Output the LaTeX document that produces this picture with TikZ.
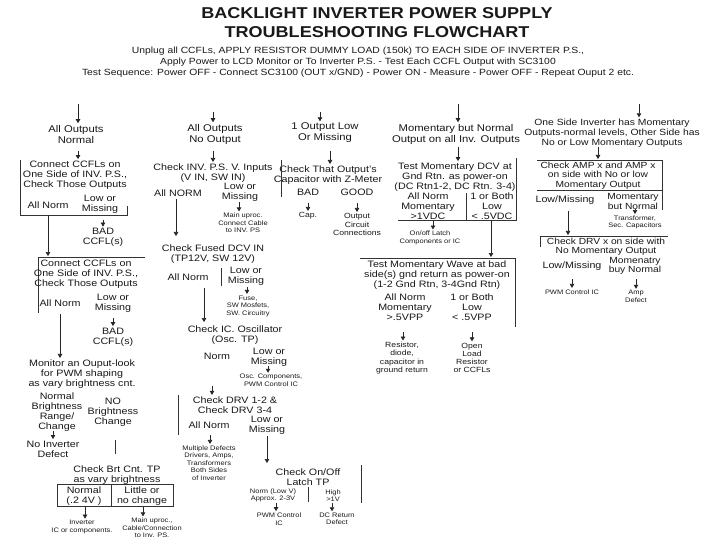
\documentclass[tikz,border=0pt]{standalone}
\usepackage{fontspec}
\setmainfont{Liberation Sans}[FakeStretch=1.15]
\usetikzlibrary{arrows.meta}
\tikzset{
  base/.style={align=center, inner sep=0.5pt, text=black!90},
  ttl/.style={base, font=\fontsize{15.7}{18}\selectfont\bfseries},
  sub/.style={base, font=\fontsize{9}{11}\selectfont},
  hd/.style={base, font=\fontsize{9.8}{11}\selectfont},
  hdb/.style={base, font=\fontsize{9}{9.8}\selectfont},
  tx/.style={base, font=\fontsize{9.3}{10}\selectfont},
  txt/.style={base, font=\fontsize{8.9}{9.2}\selectfont},
  sx/.style={base, font=\fontsize{7.5}{8.2}\selectfont},
  tn/.style={base, font=\fontsize{6.5}{7.5}\selectfont},
  ln/.style={line width=0.8pt, draw=black!80},
  arr/.style={line width=0.7pt, draw=black!85, shorten >=1pt, -{Triangle[width=4.5pt,length=4pt]}},
}
\begin{document}
\begin{tikzpicture}[x=1pt,y=-1pt]
\useasboundingbox[fill=white] (0,0) rectangle (720,540);

% ---------- title ----------
\node[ttl] (title1) at (377,13) {BACKLIGHT INVERTER POWER SUPPLY};
\node[ttl] (title2) at (377,32) {TROUBLESHOOTING FLOWCHART};
\node[sub] (intro) at (358,62) {Unplug all CCFLs, APPLY RESISTOR DUMMY LOAD (150k) TO EACH SIDE OF INVERTER P.S.,\\Apply Power to LCD Monitor or To Inverter P.S. - Test Each CCFL Output with SC3100\\Test Sequence: Power OFF - Connect SC3100 (OUT x/GND) - Power ON - Measure - Power OFF - Repeat Ouput 2  etc.};

% ---------- headers ----------
\node[hd] (h1) at (76,134) {All Outputs\\Normal};
\node[hd] (h2) at (215,134) {All Outputs\\No Output};
\node[hd] (h3) at (325,133) {1 Output Low\\Or Missing};
\node[hd] (h4) at (456,134) {Momentary but Normal\\Output on all Inv. Outputs};
\node[hdb] (h5) at (612,133) {One Side Inverter has Momentary\\Outputs-normal levels, Other Side has\\No or Low Momentary Outputs};

\coordinate (a1) at (78,104);  \draw[arr] (a1) -- (a1 |- h1.north);
\coordinate (a2) at (213,112); \draw[arr] (a2) -- (a2 |- h2.north);
\coordinate (a3) at (320,112); \draw[arr] (a3) -- (a3 |- h3.north);
\coordinate (a4) at (458,104); \draw[arr] (a4) -- (a4 |- h4.north);
\coordinate (a5) at (639,104); \draw[arr] (a5) -- (a5 |- h5.north);

% ---------- column 1 ----------
\node[tx] (b1) at (75,175) {Connect CCFLs on\\One Side of INV. P.S.,\\Check Those Outputs};
\coordinate (c1a) at (78,151); \draw[arr] (c1a) -- (c1a |- b1.north);
\draw[ln] (20,160) -- (20,215) -- (127,215) -- (127,206);
\node[tx] (n1a) at (48,205) {All Norm};
\node[tx] (n1b) at (100,204) {Low or\\Missing};
\node[tx] (bad1) at (103,237.5) {BAD\\CCFL(s)};
\coordinate (c1b) at (103,220); \draw[arr] (c1b) -- (c1b |- bad1.north);

\coordinate (b2tl) at (38,257);
\draw[ln] (145,257) -- (b2tl) -- (38,313);
\coordinate (c1c) at (48,215); \draw[arr] (c1c) -- (c1c |- b2tl);
\node[tx] (b2) at (86,274) {Connect CCFLs on\\One Side of INV. P.S.,\\Check Those Outputs};
\node[tx] (n2a) at (60,303) {All Norm};
\node[tx] (n2b) at (113,303) {Low or\\Missing};
\node[tx] (bad2) at (113,337) {BAD\\CCFL(s)};
\coordinate (c1d) at (113,318); \draw[arr] (c1d) -- (c1d |- bad2.north);

\node[tx] (mon) at (82,374) {Monitor an Ouput-look\\for PWM shaping\\as vary brightness cnt.};
\coordinate (c1e) at (60,314); \draw[arr] (c1e) -- (c1e |- mon.north);
\node[tx] (nb) at (57,412) {Normal\\Brightness\\Range/\\Change};
\node[tx] (nob) at (113,412) {NO\\Brightness\\Change};
\node[tx] (noinv) at (53,449) {No Inverter\\Defect};
\coordinate (c1f) at (53,431); \draw[arr] (c1f) -- (c1f |- noinv.north);
\draw[ln] (115,440) -- (115,454);
\node[tx] (brt) at (117,475) {Check Brt Cnt. TP\\as vary brightness};
\draw[ln] (57,484) rectangle (173,506);
\draw[ln] (111,484) -- (111,506);
\node[tx] (brtn) at (84,496) {Normal\\(.2 4V )};
\node[tx] (brtl) at (142,496) {Little or\\no change};
\node[tn] (invic) at (82,527) {Inverter\\IC or components.};
\node[tn] (mainup) at (152,528) {Main uproc.,\\Cable/Connection\\to Inv. PS.};
\coordinate (c1g) at (85,507); \draw[arr] (c1g) -- (c1g |- invic.north);
\coordinate (c1h) at (143,507); \draw[arr] (c1h) -- (c1h |- mainup.north);

% ---------- column 2 ----------
\node[tx] (chk2) at (213,173) {Check INV. P.S. V. Inputs\\(V IN, SW IN)};
\coordinate (c2a) at (213,151); \draw[arr] (c2a) -- (c2a |- chk2.north);
\node[tx] (n3a) at (178,193) {All NORM};
\node[tx] (n3b) at (240,192) {Low or\\Missing};
\node[tn] (mu1) at (243,223) {Main uproc.\\Connect Cable\\to INV. PS};
\coordinate (c2b) at (239,202); \draw[arr] (c2b) -- (c2b |- mu1.north);
\node[tx] (fus) at (213,254) {Check Fused DCV IN\\(TP12V, SW 12V)};
\coordinate (c2c) at (176,199); \draw[arr] (c2c) -- (176,237);
\node[tx] (n4a) at (188,277) {All Norm};
\draw[ln] (221,268) -- (221,286);
\node[tx] (n4b) at (246,276.5) {Low or\\Missing};
\node[tn] (fuse) at (248,306) {Fuse,\\SW Mosfets,\\SW. Circuitry};
\coordinate (c2d) at (247,287); \draw[arr] (c2d) -- (c2d |- fuse.north);
\node[tx] (osc) at (235,335) {Check IC. Oscillator\\(Osc. TP)};
\coordinate (c2e) at (204,288); \draw[arr] (c2e) -- (204,323);
\node[tx] (n5a) at (217,356) {Norm};
\node[tx] (n5b) at (269,357) {Low or\\Missing};
\node[tn] (oscc) at (271,380.5) {Osc. Components,\\PWM Control IC};
\coordinate (c2f) at (268,366); \draw[arr] (c2f) -- (c2f |- oscc.north);
\node[tx] (drv) at (235,405) {Check DRV 1-2 \&\\Check DRV 3-4};
\coordinate (c2g) at (212,386); \draw[arr] (c2g) -- (c2g |- drv.north);
\draw[ln] (178,395) -- (178,435);
\node[tx] (n6a) at (209,425) {All Norm};
\node[tx] (n6b) at (267,425) {Low or\\Missing};
\node[tn] (mult) at (209,463) {Multiple Defects\\Drivers, Amps,\\Transformers\\Both Sides\\of Inverter};
\coordinate (c2h) at (210,435); \draw[arr] (c2h) -- (c2h |- mult.north);
\node[tx] (latch) at (308,477.5) {Check On/Off\\Latch TP};
\coordinate (c2i) at (267,436); \draw[arr] (c2i) -- (267,464);
\node[tn] (lnorm) at (273,495.5) {Norm (Low V)\\Approx. 2-3V};
\draw[ln] (308,487) -- (308,502);
\node[tn] (lhigh) at (333,495.5) {High\\>1V};
\draw[ln] (361,465) -- (361,503);
\node[tn] (pwm2) at (279,519) {PWM Control\\IC};
\node[tn] (dcr) at (337,519) {DC Return\\Defect};
\coordinate (c2j) at (276,503); \draw[arr] (c2j) -- (c2j |- pwm2.north);
\coordinate (c2k) at (332,503); \draw[arr] (c2k) -- (c2k |- dcr.north);

% ---------- column 3 ----------
\node[tx] (capchk) at (328,175) {Check That Output's\\Capacitor with Z-Meter};
\coordinate (c3a) at (330,151); \draw[arr] (c3a) -- (c3a |- capchk.north);
\draw[ln] (281,160) -- (281,197);
\node[tx] (bad3) at (308,192) {BAD};
\node[tx] (good3) at (357,192) {GOOD};
\node[sx] (capx) at (308,216) {Cap.};
\node[sx] (outc) at (357,224.5) {Output\\Circuit\\Connections};
\coordinate (c3b) at (308,203); \draw[arr] (c3b) -- (c3b |- capx.north);
\coordinate (c3c) at (357,203); \draw[arr] (c3c) -- (c3c |- outc.north);

% ---------- column 4 ----------
\node[tx] (tm) at (455,177) {Test Momentary DCV at\\Gnd Rtn. as power-on\\(DC Rtn1-2, DC Rtn. 3-4)};
\coordinate (c4a) at (458,147); \draw[arr] (c4a) -- (c4a |- tm.north);
\draw[ln] (516,158) -- (516,220) -- (398,220);
\draw[ln] (466,193) -- (466,220);
\node[tx] (an4) at (428,206) {All Norm\\Momentary\\>1VDC};
\node[tx] (lo4) at (492,206) {1 or Both\\Low\\< .5VDC};
\node[tn] (latchc) at (430,238) {On/off Latch\\Components or IC};
\coordinate (c4b) at (433,221); \draw[arr] (c4b) -- (c4b |- latchc.north);
\coordinate (twtr) at (515,258);
\draw[ln] (360,258) -- (twtr) -- (515,327);
\coordinate (c4c) at (491,220); \draw[arr] (c4c) -- (c4c |- twtr);
\node[tx] (tw) at (437,275) {Test Momentary Wave at bad\\side(s) gnd return as power-on\\(1-2 Gnd Rtn, 3-4Gnd Rtn)};
\node[tx] (anm) at (405,307) {All Norm\\Momentary\\>.5VPP};
\node[tx] (lbm) at (472,307) {1 or Both\\Low\\< .5VPP};
\node[sx] (res) at (402,358) {Resistor,\\diode,\\capacitor in\\ground return};
\node[sx] (opn) at (472,358) {Open\\Load\\Resistor\\or CCFLs};
\coordinate (c4d) at (403,332); \draw[arr] (c4d) -- (c4d |- res.north);
\coordinate (c4e) at (472,332); \draw[arr] (c4e) -- (c4e |- opn.north);

% ---------- column 5 ----------
\coordinate (amptop) at (598,160);
\draw[ln] (537,160) -- (662,160) -- (662,210);
\draw[ln] (537,190) -- (662,190);
\coordinate (c5a) at (598,147); \draw[arr] (c5a) -- (amptop);
\node[txt] (amp) at (598,175.5) {Check AMP x and AMP x\\on side with No or low\\Momentary Output};
\node[tx] (lm5) at (565,200) {Low/Missing};
\node[txt] (mn5) at (633,201.5) {Momentary\\but Normal};
\node[tn] (trans) at (635,222.5) {Transformer,\\Sec. Capacitors};
\coordinate (c5b) at (635,209); \draw[arr] (c5b) -- (c5b |- trans.north);
\coordinate (drvtop) at (568,236);
\draw[ln] (540,247) -- (540,236) -- (668,236);
\coordinate (c5c) at (568,211); \draw[arr] (c5c) -- (drvtop);
\node[txt] (drvx) at (606,246.5) {Check DRV x on side with\\No Momentary Output};
\node[tx] (lm6) at (572,266) {Low/Missing};
\node[txt] (mn6) at (635,265.5) {Momenatry\\buy Normal};
\node[tn] (pwm5) at (572,292) {PWM Control IC};
\node[tn] (ampd) at (636,296.5) {Amp\\Defect};
\coordinate (c5d) at (572,279); \draw[arr] (c5d) -- (c5d |- pwm5.north);
\coordinate (c5e) at (636,279); \draw[arr] (c5e) -- (c5e |- ampd.north);
\end{tikzpicture}
\end{document}
